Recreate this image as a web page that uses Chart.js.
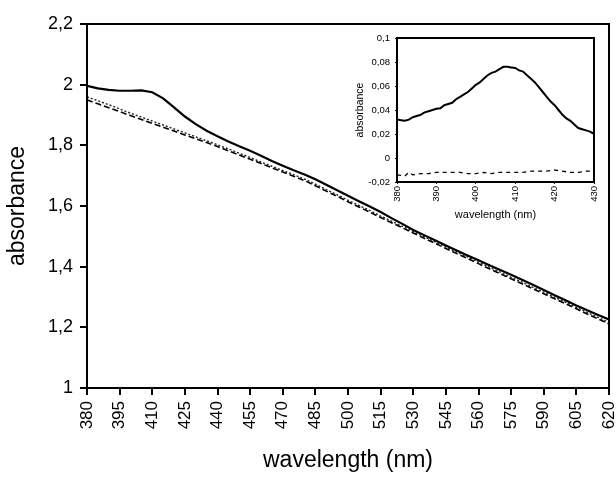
<!DOCTYPE html>
<html><head><meta charset="utf-8">
<script src="https://cdn.jsdelivr.net/npm/chart.js"></script>
<style>
html,body{margin:0;padding:0;background:#fff;}
#wrap{position:relative;width:616px;height:478px;background:#fff;}
#main{position:absolute;left:0;top:0;width:616px;height:478px;}
#inset{position:absolute;left:350px;top:28px;width:255px;height:200px;}
</style></head><body>
<div id="wrap"><canvas id="main" width="616" height="478"></canvas><canvas id="inset" width="255" height="200"></canvas></div>
<script>
// ---- main chart data ----
const wavelengths = [380,385,390,395,400,405,410,415,420,425,430,435,440,445,450,455,460,465,470,475,480,485,490,495,500,505,510,515,520,525,530,535,540,545,550,555,560,565,570,575,580,585,590,595,600,605,610,615,620];
const solidSeries = [1.996,1.988,1.983,1.980,1.980,1.981,1.975,1.955,1.925,1.895,1.870,1.848,1.830,1.813,1.797,1.782,1.766,1.748,1.733,1.718,1.704,1.688,1.670,1.652,1.634,1.616,1.598,1.580,1.560,1.541,1.521,1.504,1.487,1.470,1.453,1.437,1.421,1.405,1.389,1.373,1.357,1.340,1.323,1.306,1.289,1.272,1.256,1.241,1.226];
const dottedSeries = [1.960,1.947,1.934,1.920,1.906,1.893,1.880,1.867,1.854,1.841,1.828,1.815,1.802,1.788,1.774,1.760,1.745,1.731,1.717,1.703,1.689,1.672,1.654,1.637,1.619,1.602,1.585,1.567,1.550,1.533,1.516,1.499,1.482,1.465,1.448,1.432,1.415,1.398,1.382,1.365,1.349,1.332,1.316,1.299,1.283,1.266,1.249,1.233,1.216];
const dashedSeries = [1.950,1.937,1.924,1.911,1.898,1.885,1.872,1.860,1.847,1.834,1.822,1.809,1.796,1.782,1.768,1.754,1.740,1.726,1.712,1.698,1.684,1.667,1.649,1.632,1.614,1.597,1.580,1.562,1.545,1.528,1.511,1.494,1.477,1.460,1.443,1.427,1.410,1.393,1.377,1.360,1.344,1.327,1.311,1.294,1.278,1.261,1.244,1.228,1.211];
const mainXTicks = {min:380, max:620, step:15};
const mainYTicks = {min:1, max:2.2, step:0.2};

// ---- inset data ----
const insetWavelengths = [380,381,382,383,384,385,386,387,388,389,390,391,392,393,394,395,396,397,398,399,400,401,402,403,404,405,406,407,408,409,410,411,412,413,414,415,416,417,418,419,420,421,422,423,424,425,426,427,428,429,430];
const insetSolid = [0.032,0.0315,0.031,0.032,0.034,0.035,0.036,0.038,0.039,0.040,0.041,0.0415,0.044,0.045,0.046,0.049,0.051,0.053,0.055,0.058,0.061,0.063,0.066,0.069,0.071,0.072,0.074,0.076,0.076,0.0755,0.075,0.073,0.072,0.069,0.066,0.063,0.059,0.055,0.051,0.047,0.044,0.040,0.036,0.033,0.031,0.028,0.025,0.024,0.023,0.022,0.020];
const insetDashedWavelengths = [380,382,383,384,386,388,390,392,394,396,398,400,402,404,406,408,410,412,414,416,418,420,422,424,426,428,430];
const insetDashed = [-0.014,-0.015,-0.012,-0.014,-0.013,-0.013,-0.012,-0.012,-0.012,-0.012,-0.013,-0.013,-0.012,-0.013,-0.012,-0.012,-0.012,-0.012,-0.011,-0.011,-0.011,-0.010,-0.011,-0.012,-0.012,-0.011,-0.011];
const insetXTicks = {min:380, max:430, step:10};
const insetYTicks = {min:-0.02, max:0.1, step:0.02};

const FONT = "'Liberation Sans', Arial, Helvetica, sans-serif";
const fmt = v => String(Math.round(v*1000)/1000).replace('.', ',');
const pts = (xs, ys) => xs.map((x,i)=>({x:x, y:ys[i]}));

const boxPlugin = {
  id:'box',
  afterDraw(chart, args, opts){
    const a = chart.chartArea, c = chart.ctx;
    c.save(); c.strokeStyle='#000'; c.lineWidth=opts.width||2;
    c.strokeRect(a.left, a.top, a.right-a.left, a.bottom-a.top);
    c.restore();
  }
};

function fitX(h){ return function(s){ s.height=h; s.paddingLeft=0; s.paddingRight=0; }; }
function fitY(w){ return function(s){ s.width=w; s.paddingTop=0; s.paddingBottom=0; }; }

new Chart(document.getElementById('main'), {
  type:'line',
  data:{datasets:[
    {data:pts(wavelengths, solidSeries), borderColor:'#000', borderWidth:2.2, pointRadius:0, fill:false},
    {data:pts(wavelengths, dottedSeries), borderColor:'#222', borderWidth:1.4, borderDash:[2,2], pointRadius:0, fill:false},
    {data:pts(wavelengths, dashedSeries), borderColor:'#000', borderWidth:1.6, borderDash:[6,3], pointRadius:0, fill:false}
  ]},
  plugins:[boxPlugin],
  options:{
    responsive:false, animation:false, devicePixelRatio:1,
    layout:{padding:{left:0,right:7,top:24,bottom:0}},
    plugins:{legend:{display:false}, tooltip:{enabled:false}, box:{width:2}},
    scales:{
      x:{type:'linear', min:mainXTicks.min, max:mainXTicks.max,
        afterFit:fitX(90),
        border:{display:false},
        grid:{drawOnChartArea:false, drawTicks:true, tickLength:7, color:'#000', lineWidth:2},
        ticks:{stepSize:mainXTicks.step, autoSkip:false, maxTicksLimit:30, minRotation:90, maxRotation:90, padding:6, color:'#000', font:{family:FONT, size:17}, callback:v=>fmt(v)},
        title:{display:true, text:'wavelength (nm)', color:'#000', font:{family:FONT, size:23}, padding:{top:4,bottom:4}}
      },
      y:{type:'linear', min:mainYTicks.min, max:mainYTicks.max,
        afterFit:fitY(87),
        border:{display:false},
        grid:{drawOnChartArea:false, drawTicks:true, tickLength:7, color:'#000', lineWidth:2},
        ticks:{stepSize:mainYTicks.step, autoSkip:false, padding:7, color:'#000', font:{family:FONT, size:18}, callback:v=>fmt(v)},
        title:{display:true, text:'absorbance', color:'#000', font:{family:FONT, size:23}, padding:{top:4,bottom:4}}
      }
    }
  }
});

new Chart(document.getElementById('inset'), {
  type:'line',
  data:{datasets:[
    {data:pts(insetWavelengths, insetSolid), borderColor:'#000', borderWidth:2, pointRadius:0, fill:false},
    {data:pts(insetDashedWavelengths, insetDashed), borderColor:'#000', borderWidth:1.3, borderDash:[4,4], pointRadius:0, fill:false}
  ]},
  plugins:[boxPlugin],
  options:{
    responsive:false, animation:false, devicePixelRatio:1,
    layout:{padding:{left:0,right:11,top:10,bottom:0}},
    plugins:{legend:{display:false}, tooltip:{enabled:false}, box:{width:2}},
    scales:{
      x:{type:'linear', min:insetXTicks.min, max:insetXTicks.max,
        afterFit:fitX(46),
        border:{display:false},
        grid:{drawOnChartArea:false, drawTicks:true, tickLength:2, color:'#000', lineWidth:1},
        ticks:{stepSize:insetXTicks.step, autoSkip:false, minRotation:90, maxRotation:90, padding:2, color:'#000', font:{family:FONT, size:9.5}, callback:v=>fmt(v)},
        title:{display:true, text:'wavelength (nm)', color:'#000', font:{family:FONT, size:11}, padding:{top:2,bottom:6}}
      },
      y:{type:'linear', min:insetYTicks.min, max:insetYTicks.max,
        afterFit:fitY(47),
        border:{display:false},
        grid:{drawOnChartArea:false, drawTicks:true, tickLength:2, color:'#000', lineWidth:1},
        ticks:{stepSize:insetYTicks.step, autoSkip:false, padding:5, color:'#000', font:{family:FONT, size:9.5}, callback:v=>fmt(v)},
        title:{display:true, text:'absorbance', color:'#000', font:{family:FONT, size:10.5}, padding:{top:4,bottom:2}}
      }
    }
  }
});
</script>
</body></html>
